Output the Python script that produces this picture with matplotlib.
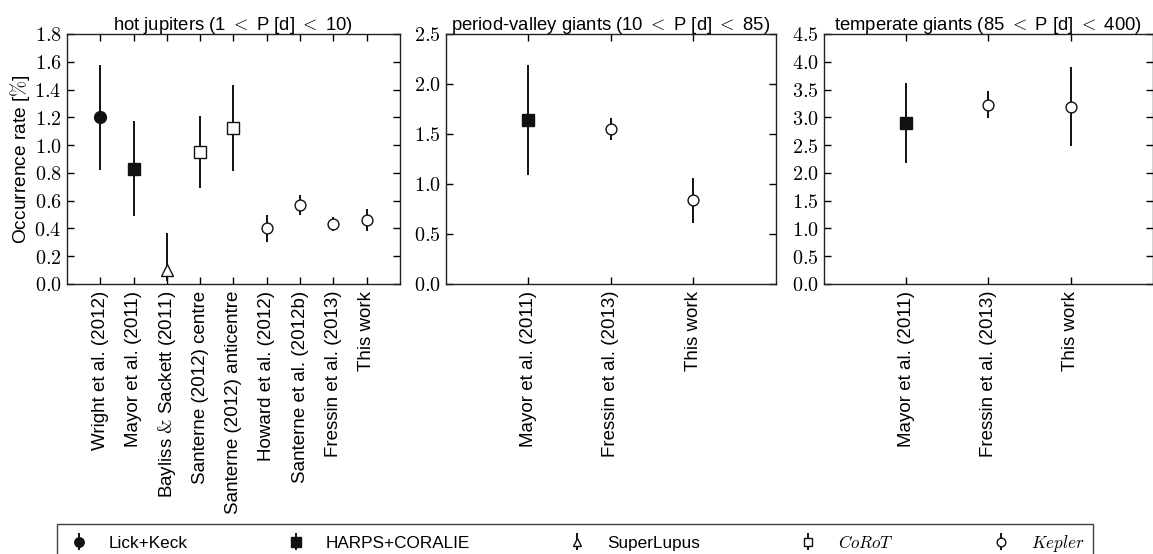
import numpy as np
import matplotlib
matplotlib.use('Agg')
import matplotlib.pyplot as plt
from matplotlib.ticker import FuncFormatter, MultipleLocator
from matplotlib.mathtext import MathTextParser

plt.rcParams['font.family'] = ['Liberation Sans', 'DejaVu Sans']
plt.rcParams['mathtext.fontset'] = 'cm'
plt.rcParams['font.size'] = 13

# serif ampersand if mathtext accepts it
amp = r'$&$'
try:
    MathTextParser('agg').parse(amp, 100)
except Exception:
    amp = '&'

# hot jupiters
hj_labels = ['Wright et al. (2012)', 'Mayor et al. (2011)', 'Bayliss ' + amp + ' Sackett (2011)',
             'Santerne (2012) centre', 'Santerne (2012) anticentre', 'Howard et al. (2012)',
             'Santerne et al. (2012b)', 'Fressin et al. (2013)', 'This work']
hj_rate = [1.20, 0.83, 0.10, 0.95, 1.12, 0.40, 0.57, 0.43, 0.46]
hj_err_lo = [0.38, 0.34, 0.08, 0.26, 0.31, 0.10, 0.07, 0.05, 0.08]
hj_err_hi = [0.38, 0.34, 0.27, 0.26, 0.31, 0.10, 0.07, 0.05, 0.08]
hj_survey = ['lick', 'harps', 'lupus', 'corot', 'corot', 'kepler', 'kepler', 'kepler', 'kepler']

# period-valley giants
pv_labels = ['Mayor et al. (2011)', 'Fressin et al. (2013)', 'This work']
pv_rate = [1.64, 1.55, 0.84]
pv_err_lo = [0.55, 0.11, 0.23]
pv_err_hi = [0.55, 0.11, 0.22]
pv_survey = ['harps', 'kepler', 'kepler']

# temperate giants
tg_labels = ['Mayor et al. (2011)', 'Fressin et al. (2013)', 'This work']
tg_rate = [2.89, 3.23, 3.19]
tg_err_lo = [0.72, 0.25, 0.71]
tg_err_hi = [0.72, 0.25, 0.71]
tg_survey = ['harps', 'kepler', 'kepler']

styles = {
    'lick':   dict(marker='o', mfc='#111111', ms=8.5, label='Lick+Keck'),
    'harps':  dict(marker='s', mfc='#111111', ms=8.3, label='HARPS+CORALIE'),
    'lupus':  dict(marker='^', mfc='white', ms=8.0, label='SuperLupus'),
    'corot':  dict(marker='s', mfc='white', ms=8.0, label=r'$CoRoT$'),
    'kepler': dict(marker='o', mfc='white', ms=7.8, label=r'$Kepler$'),
}
order = ['lick', 'harps', 'lupus', 'corot', 'kepler']

fig = plt.figure(figsize=(11.53, 5.54), dpi=100)

panels = [
    (hj_labels, hj_rate, hj_err_lo, hj_err_hi, hj_survey, r'hot jupiters (1 $<$ P [d] $<$ 10)',
     [0.0581, 0.4874, 0.2888, 0.4513], 1.8, 0.2),
    (pv_labels, pv_rate, pv_err_lo, pv_err_hi, pv_survey, r'period-valley giants (10 $<$ P [d] $<$ 85)',
     [0.3868, 0.4874, 0.2862, 0.4513], 2.5, 0.5),
    (tg_labels, tg_rate, tg_err_lo, tg_err_hi, tg_survey, r'temperate giants (85 $<$ P [d] $<$ 400)',
     [0.7147, 0.4874, 0.2850, 0.4513], 4.5, 0.5),
]

handles = {}
for i, (labels, rate, lo, hi, survey, title, rect, ymax, step) in enumerate(panels):
    ax = fig.add_axes(rect)
    x = np.arange(len(labels))
    for j in range(len(labels)):
        st = styles[survey[j]]
        h = ax.errorbar(x[j], rate[j], yerr=[[lo[j]], [hi[j]]], fmt=st['marker'],
                        mfc=st['mfc'], mec='#111111', ms=st['ms'], mew=1.0,
                        ecolor='#111111', elinewidth=1.4, capsize=0, label=st['label'])
        if survey[j] not in handles:
            handles[survey[j]] = h
    ax.set_xlim(-1, len(labels))
    ax.set_ylim(0, ymax)
    ax.yaxis.set_major_locator(MultipleLocator(step))
    ax.yaxis.set_major_formatter(FuncFormatter(lambda v, p: f'${v:.1f}$'))
    ax.set_xticks(x)
    ax.set_xticklabels(labels, rotation=90, fontsize=13.5)
    ax.tick_params(direction='in', top=True, right=True, length=5, width=1, pad=5)
    ax.tick_params(axis='y', labelsize=14.5, pad=4)
    for s in ax.spines.values():
        s.set_linewidth(1.0)
        s.set_color('#222222')
    ax.set_title(title, fontsize=13.3, pad=3)
    if i == 0:
        ax.set_ylabel(r'Occurrence rate [$\%$]', fontsize=13.8, labelpad=2)

leg = fig.legend([handles[k] for k in order], [styles[k]['label'] for k in order],
                 loc='upper left', bbox_to_anchor=(0.0494, 0.0542), ncol=5,
                 frameon=True, fancybox=False, edgecolor='#111111', fontsize=12.3,
                 markerscale=0.8, handlelength=1.6, handletextpad=0.95,
                 columnspacing=5.5, borderpad=0.5, borderaxespad=0)
leg.get_frame().set_linewidth(1.0)

fig.savefig('out.png', dpi=100)
